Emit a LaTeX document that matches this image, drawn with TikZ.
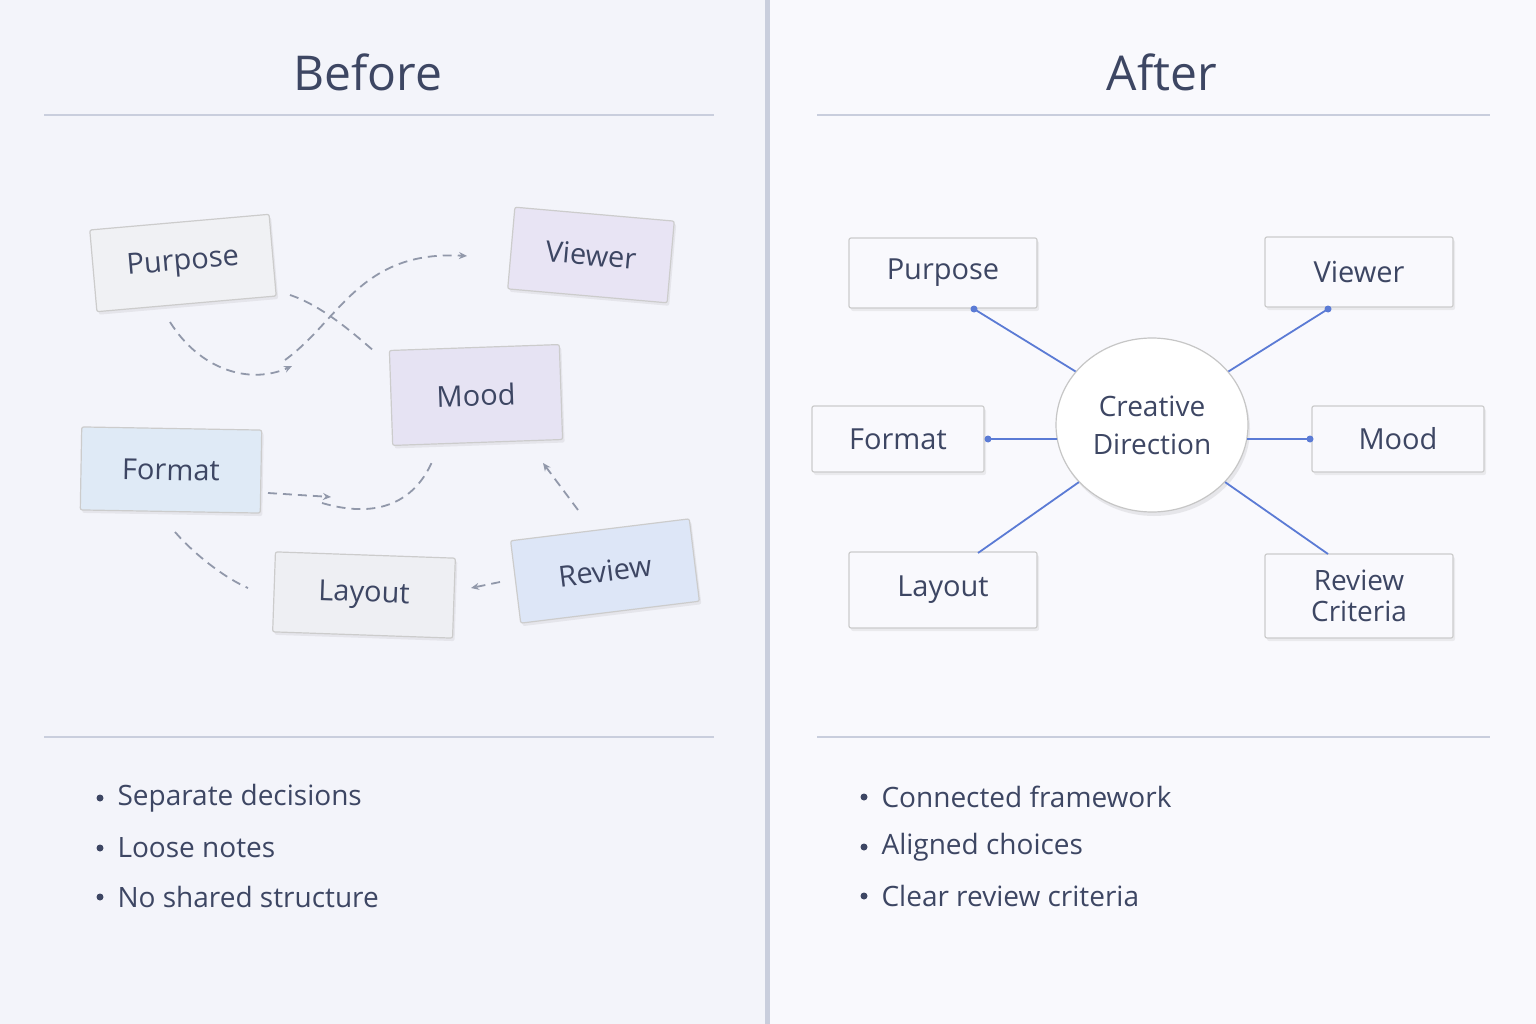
\documentclass[tikz,border=0pt]{standalone}
\usepackage{fontspec}
\setmainfont{Open Sans}
\usetikzlibrary{arrows.meta,shadows,shapes.geometric}
\definecolor{txt}{HTML}{3D4663}
\definecolor{rule}{HTML}{C9CEDD}
\definecolor{dash}{HTML}{9198AA}
\definecolor{conn}{HTML}{5B7BD5}
\definecolor{lbg}{HTML}{F3F4FA}
\definecolor{rbg}{HTML}{F9F9FD}
\begin{document}
\begin{tikzpicture}[x=1pt,y=-1pt,
  card/.style={draw=gray!40, line width=1.2pt, rounded corners=2pt, text=txt, font=\fontsize{29}{32}\selectfont, drop shadow={shadow xshift=2pt,shadow yshift=-3pt,opacity=0.12}},
  rcard/.style={draw=gray!40, fill=rbg, line width=1.2pt, rounded corners=2pt, text=txt, font=\fontsize{29}{32}\selectfont, align=center, drop shadow={shadow xshift=2pt,shadow yshift=-3pt,opacity=0.12}},
  dsh/.style={draw=dash, line width=1.8pt, dash pattern=on 9pt off 6pt},
  arr/.style={-{Stealth[length=8pt,width=7pt]}},
  cn/.style={draw=conn, line width=1.8pt},
  dot/.style={circle, fill=conn, inner sep=0pt, minimum size=7pt},
  hdr/.style={text=txt, font=\fontsize{48}{52}\selectfont},
  bul/.style={text=txt, font=\fontsize{28}{32}\selectfont, anchor=west}]
\useasboundingbox (0,0) rectangle (1536,1024);
\fill[lbg] (0,0) rectangle (766,1024);
\fill[rbg] (769,0) rectangle (1536,1024);
\fill[rule] (765,0) rectangle (770,1024);
\node[hdr] (hb) at (368,72) {Before};
\node[hdr] (ha) at (1162,72) {After};
\draw[rule, line width=1.2pt] (44,115) -- (714,115) (817,115) -- (1490,115) (44,737) -- (714,737) (817,737) -- (1490,737);
% left cards
\node[card, fill={rgb,255:red,240;green,241;blue,244}, minimum width=180pt, minimum height=82pt, rotate=5] (p) at (183,263) {Purpose};
\node[card, fill={rgb,255:red,232;green,228;blue,244}, minimum width=160pt, minimum height=82pt, rotate=-5] (v) at (591,255) {Viewer};
\node[card, fill={rgb,255:red,230;green,227;blue,243}, minimum width=170pt, minimum height=95pt, rotate=2] (m) at (476,395) {Mood};
\node[card, fill={rgb,255:red,223;green,234;blue,246}, minimum width=180pt, minimum height=83pt, rotate=-1] (f) at (171,470) {Format};
\node[card, fill={rgb,255:red,238;green,239;blue,243}, minimum width=180pt, minimum height=80pt, rotate=-2] (l) at (364,595) {Layout};
\node[card, fill={rgb,255:red,221;green,230;blue,247}, minimum width=180pt, minimum height=83pt, rotate=7] (r) at (605,571) {Review};
% dashed
\coordinate (a1) at (170,322); \coordinate (a2) at (292,366);
\draw[dsh,arr] (a1) .. controls (200,370) and (250,385) .. (a2);
\coordinate (b1) at (285,360); \coordinate (b2) at (467,256);
\draw[dsh,arr] (b1) .. controls (340,320) and (360,250) .. (b2);
\coordinate (c1) at (290,295); \coordinate (c2) at (375,352);
\draw[dsh] (c1) .. controls (320,305) and (350,330) .. (c2);
\coordinate (d1) at (268,493); \coordinate (d2) at (331,497);
\draw[dsh,arr] (d1) -- (d2);
\coordinate (e1) at (322,503); \coordinate (e2) at (432,462);
\draw[dsh] (e1) .. controls (380,520) and (415,500) .. (e2);
\coordinate (g1) at (578,510); \coordinate (g2) at (543,463);
\draw[dsh,arr] (g1) -- (g2);
\coordinate (h1) at (175,532); \coordinate (h2) at (248,588);
\draw[dsh] (h1) .. controls (195,555) and (225,578) .. (h2);
\coordinate (k1) at (500,582); \coordinate (k2) at (471,588);
\draw[dsh,arr] (k1) -- (k2);
% right
\node[rcard, minimum width=188pt, minimum height=70pt] (P) at (943,273) {Purpose};
\node[rcard, minimum width=188pt, minimum height=70pt] (V) at (1359,272) {Viewer};
\node[rcard, minimum width=172pt, minimum height=66pt] (F) at (898,439) {Format};
\node[rcard, minimum width=172pt, minimum height=66pt] (M) at (1398,439) {Mood};
\node[rcard, minimum width=188pt, minimum height=76pt] (L) at (943,590) {Layout};
\node[rcard, minimum width=188pt, minimum height=84pt, font=\fontsize{28}{31}\selectfont] (R) at (1359,596) {Review\\Criteria};
\node[ellipse, draw=gray!45, line width=1.2pt, fill=white, minimum width=192pt, minimum height=174pt, text=txt, align=center, font=\fontsize{28}{38}\selectfont, drop shadow={shadow xshift=2pt,shadow yshift=-4pt,opacity=0.15}] (C) at (1152,425) {Creative\\Direction};
\coordinate (P1) at (974,309); \coordinate (V1) at (1328,309);
\coordinate (F1) at (988,439); \coordinate (M1) at (1310,439);
\coordinate (L1) at (978,553); \coordinate (R1) at (1328,554);
\coordinate (CF) at (1057,439); \coordinate (CM) at (1247,439);
\draw[cn] (P1) -- (C.145) (V1) -- (C.35) (F1) -- (CF) (M1) -- (CM) (L1) -- (C.218) (R1) -- (C.322);
\foreach \q in {P1,V1,F1,M1} \node[dot] at (\q) {};
% bullets
\foreach \t/\y in {Separate decisions/798, Loose notes/848, No shared structure/897} {
  \fill[txt] (100,\y) circle (3.5pt);
  \node[bul] at (114,\y) {\t};}
\foreach \t/\y in {Connected framework/797, Aligned choices/847, Clear review criteria/896} {
  \fill[txt] (864,\y) circle (3.5pt);
  \node[bul] at (878,\y) {\t};}
\end{tikzpicture}
\end{document}
